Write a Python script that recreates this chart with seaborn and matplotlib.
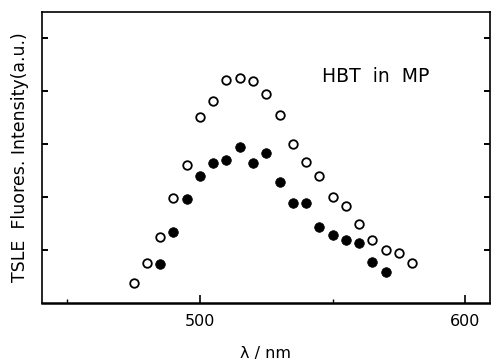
import numpy as np
import pandas as pd
import matplotlib
matplotlib.use("Agg")
import matplotlib.pyplot as plt
from matplotlib.ticker import MultipleLocator, NullFormatter
import seaborn as sns

# Spectre TSLE de HBT dans MP : cercles ouverts et cercles pleins
wl_open = [475, 480, 485, 490, 495, 500, 505, 510, 515, 520, 525,
           530, 535, 540, 545, 550, 555, 560, 565, 570, 575, 580]
int_open = [0.37, 0.76, 1.25, 1.99, 2.61, 3.51, 3.81, 4.21, 4.25, 4.20, 3.95,
            3.55, 3.00, 2.66, 2.40, 2.01, 1.84, 1.50, 1.20, 1.00, 0.95, 0.75]

wl_filled = [485, 490, 495, 500, 505, 510, 515, 520, 525,
             530, 535, 540, 545, 550, 555, 560, 565, 570]
int_filled = [0.74, 1.35, 1.96, 2.40, 2.65, 2.70, 2.95, 2.65, 2.84,
              2.29, 1.89, 1.89, 1.44, 1.29, 1.20, 1.14, 0.78, 0.58]

df_open = pd.DataFrame({"wl": wl_open, "intensity": int_open})
df_filled = pd.DataFrame({"wl": wl_filled, "intensity": int_filled})

sns.set_style("ticks", {"axes.edgecolor": "black", "text.color": "black",
                        "axes.labelcolor": "black", "xtick.color": "black",
                        "ytick.color": "black"})
plt.rcParams["font.family"] = ["DejaVu Sans"]

fig = plt.figure(figsize=(4.91, 3.61), dpi=100)
ax = fig.add_axes([0.0855, 0.1607, 0.9125, 0.806])

sns.scatterplot(data=df_open, x="wl", y="intensity", ax=ax, marker="o",
                s=38, facecolor="white", edgecolor="black", linewidth=1.3)
sns.scatterplot(data=df_filled, x="wl", y="intensity", ax=ax, marker="o",
                s=48, color="black", edgecolor="black", linewidth=0.5)

ax.set_xlim(440.4, 609.4)
ax.set_ylim(0, 5.5)
ax.xaxis.set_major_locator(MultipleLocator(100))
ax.xaxis.set_minor_locator(MultipleLocator(50))
ax.set_yticks([1, 2, 3, 4, 5])
ax.yaxis.set_major_formatter(NullFormatter())

ax.tick_params(axis="x", which="major", direction="in", length=6, width=1.2,
               labelsize=11.5, pad=8, top=False)
ax.tick_params(axis="x", which="minor", direction="in", length=3, width=1.0, top=False)
ax.tick_params(axis="y", which="major", direction="in", length=4, width=1.4,
               left=True, right=True, labelleft=False)

for side in ["left", "top", "right"]:
    ax.spines[side].set_linewidth(1.2)
ax.spines["bottom"].set_linewidth(1.8)

ax.set_xlabel("λ / nm", fontsize=11.5, labelpad=12)
ax.set_ylabel("TSLE  Fluores. Intensity(a.u.)", fontsize=12.5, labelpad=9)

ax.text(0.745, 0.78, "HBT  in  MP", transform=ax.transAxes, fontsize=13.5,
        ha="center", va="center")

fig.savefig("out.png", dpi=100)
